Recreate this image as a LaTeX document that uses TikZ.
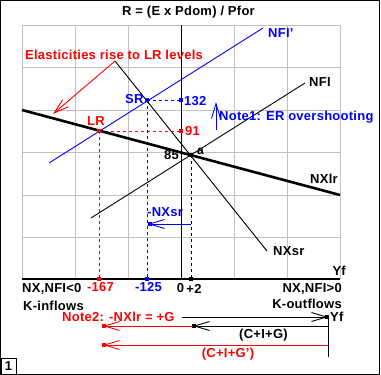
\documentclass[tikz,border=0pt]{standalone}
\usepackage{fontspec}
\setmainfont{Liberation Sans}[LetterSpace=2]
\usetikzlibrary{arrows.meta}
\definecolor{gridc}{HTML}{C0C0C0}
\definecolor{rd}{HTML}{FF0000}
\definecolor{bl}{HTML}{0000FF}
\begin{document}
\begin{tikzpicture}[x=1pt,y=-1pt,
  lbl/.style={inner sep=0pt, font=\fontsize{13}{15}\selectfont\bfseries},
  gridline/.style={gridc, line width=1pt},
  thinline/.style={line width=0.9pt},
  dsh/.style={line width=1pt, dash pattern=on 3pt off 3pt},
  barb/.style={-{Straight Barb[length=15pt,width=9pt,line width=0.9pt]}},
  sq/.pic={\fill (-1.6,-1.6) rectangle (1.6,1.6);}
]
\useasboundingbox (0,0) rectangle (381,375);
\fill[white] (0,0) rectangle (381,375);
\draw[line width=1pt] (0.5,0.5) rectangle (379.5,374.5);
% grid
\foreach \x in {22,75,128,234,287,340} \draw[gridline] (\x,25) -- (\x,279);
\foreach \y in {25,67,110,152,195,237} \draw[gridline] (22,\y) -- (340,\y);
% axes
\draw[line width=1pt] (181,25) -- (181,279);
\draw[line width=1.6pt] (22,279) -- (340,279);
% key points
\coordinate (a) at (191,155);
\coordinate (SR) at (147,100);
\coordinate (LR) at (99,131);
\coordinate (SRy) at (181,100);
\coordinate (LRy) at (181,131);
\coordinate (SRx) at (147,279);
\coordinate (LRx) at (99,279);
\coordinate (ax) at (191,279);
\coordinate (nxsrA) at (115,61);
\coordinate (nxsrB) at (267,251);
\coordinate (nfiA) at (91,218);
\coordinate (nfiB) at (305,83);
\coordinate (nfipA) at (49,163);
\coordinate (nfipB) at (263,28);
\coordinate (nxlrA) at (22,110);
\coordinate (nxlrB) at (340,195);
% dashed guides
\draw[dsh,rd] (LR) -- (LRy);
\draw[dsh,rd] (LR) -- (LRx);
\draw[dsh,bl] (SR) -- (SRy);
\draw[dsh,bl] (SR) -- (SRx);
\draw[dsh] (a) -- (ax);
% curves
\draw[thinline] (nxsrA) -- (nxsrB);
\draw[thinline] (nfiA) -- (nfiB);
\draw[thinline,bl] (nfipA) -- (nfipB);
\draw[line width=2.6pt] (nxlrA) -- (nxlrB);
% dots
\pic[rd] at (LR) {sq};
\pic[bl] at (SR) {sq};
\pic[rd] at (LRy) {sq};
\pic[bl] at (SRy) {sq};
\pic[rd] at (LRx) {sq};
\pic[bl] at (SRx) {sq};
\pic at (ax) {sq};
\pic at (a) {sq};
% arrows in chart
\coordinate (elTip) at (53,114);
\draw[thinline,rd,barb] (nxsrA) -- (elTip);
\coordinate (n1A) at (216,130);
\coordinate (n1B) at (216,102);
\draw[thinline,bl,barb] (n1A) -- (n1B);
\coordinate (nxA) at (191,224);
\coordinate (nxB) at (148,224);
\draw[thinline,bl,barb] (nxA) -- (nxB);
\pic[bl] at (150,224) {sq};
% bottom arrows
\coordinate (b1A) at (182,317);
\coordinate (yfP) at (328,317);
\coordinate (vB) at (328,357);
\coordinate (b2A) at (328,326);
\coordinate (b2B) at (193,326);
\coordinate (b3B) at (103,326);
\coordinate (b4A) at (328,345);
\coordinate (b4B) at (103,345);
\draw[thinline,barb] (b1A) -- (yfP);
\pic at (327,317) {sq};
\draw[thinline] (yfP) -- (vB);
\draw[thinline,barb] (b2A) -- (b2B);
\pic at (194,326) {sq};
\draw[thinline,rd,barb] (b2B) -- (b3B);
\pic[rd] at (104,326) {sq};
\draw[thinline,rd,barb] (b4A) -- (b4B);
\pic[rd] at (104,345) {sq};
% labels
\node[lbl] (title) at (188.5,12) {R = (E x Pdom) / Pfor};
\node[lbl,rd,anchor=west] (elast) at (25,55) {Elasticities rise to LR levels};
\node[lbl,bl,anchor=west] (nfipL) at (268,33) {NFI'};
\node[lbl,anchor=west] (nfiL) at (309,82) {NFI};
\node[lbl,bl,anchor=west] (srL) at (125,99.5) {SR};
\node[lbl,bl,anchor=west] (v132) at (184,101.5) {132};
\node[lbl,rd,anchor=west] (lrL) at (87,121) {LR};
\node[lbl,rd,anchor=west] (v91) at (185,131) {91};
\node[lbl,bl,anchor=west] (note1) at (219,117) {Note1: ER overshooting};
\node[lbl,anchor=east] (v85) at (179,155) {85};
\node[lbl,anchor=west,font=\fontsize{12}{14}\selectfont\bfseries,inner sep=0pt] (aL) at (197,151) {a};
\node[lbl,anchor=west] (nxlrL) at (310,179) {NXlr};
\node[lbl,bl,anchor=west] (nxsrNeg) at (147,212.5) {-NXsr};
\node[lbl,anchor=west] (nxsrL) at (273,251.5) {NXsr};
\node[lbl,anchor=east] (yfTop) at (346,271) {Yf};
\node[lbl,rd] (m167) at (100.5,287) {-167};
\node[lbl,bl] (m125) at (148.5,287) {-125};
\node[lbl] (zero) at (180.5,288.5) {0};
\node[lbl] (p2) at (194,288.5) {+2};
\node[lbl,anchor=west] (nxneg) at (22,289) {NX,NFI<0};
\node[lbl,anchor=west] (kin) at (23,305.5) {K-inflows};
\node[lbl,anchor=east] (nxpos) at (342,289) {NX,NFI>0};
\node[lbl,anchor=east] (kout) at (342,303.5) {K-outflows};
\node[lbl,rd,anchor=west] (note2) at (62,317) {Note2: -NXlr = +G};
\node[lbl,anchor=west] (yfBot) at (330,317) {Yf};
\node[lbl] (cig) at (263.5,335) {(C+I+G)};
\node[lbl,rd] (cigp) at (228,354.5) {(C+I+G')};
\draw[line width=1pt] (1,358) rectangle (16.5,374.5);
\node[lbl] (one) at (8.5,366) {1};
\end{tikzpicture}
\end{document}
